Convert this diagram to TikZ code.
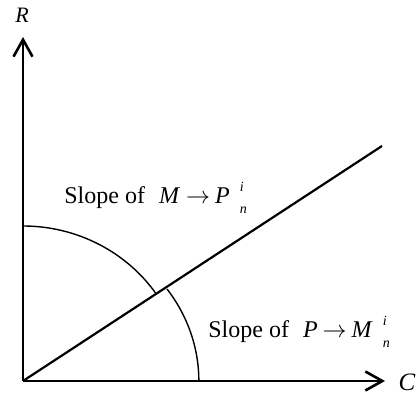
\documentclass[tikz,border=0pt]{standalone}
\usepackage{fontspec}
\setmainfont{Liberation Serif}
\usetikzlibrary{arrows.meta, positioning}

% superscript i over subscript n, set apart like an equation editor
\newcommand{\supsubin}{\hspace{5pt}\rlap{\raisebox{6pt}{\fontsize{7}{8}\selectfont\textit{i}}}\raisebox{-5pt}{\fontsize{7}{8}\selectfont\textit{n}}}

\begin{document}
\begin{tikzpicture}[
    x=0.5pt, y=0.5pt,
    axis/.style={line width=1.3pt, -{Straight Barb[length=8.5pt, width=9.5pt]}},
    ratio/.style={line width=1.1pt},
    sweep/.style={line width=0.7pt},
    slopelabel/.style={anchor=base west, inner sep=0pt, font=\fontsize{12}{14}\selectfont},
    axlabel/.style={inner sep=0pt, font=\itshape}
]
\useasboundingbox (0,0) rectangle (417,394);

\coordinate (O)    at (23,13);
\coordinate (Rtip) at (23,357);
\coordinate (Ctip) at (385,13);
\coordinate (Lend) at (382,248);

\node[axlabel, font=\fontsize{11}{13}\selectfont\itshape] (R) at (22,379) {R};
\node[axlabel, font=\fontsize{12.5}{14}\selectfont\itshape] (C) at (407,12) {C};

\draw[axis]  (O) -- (Rtip);
\draw[axis]  (O) -- (Ctip);
\draw[ratio] (O) -- (Lend);

% the two angle sweeps
\draw[sweep] (23,168) arc[start angle=90, end angle=34, x radius=161, y radius=155];
\draw[sweep] (167,105) arc[start angle=35, end angle=0, x radius=176, y radius=160];

\node[slopelabel] (mp) at (64,190)
  {Slope of\hspace{7pt}\textit{M}\hspace{3pt}$\rightarrow$\hspace{2.5pt}\textit{P}\supsubin};
\node[slopelabel] (pm) at (208,56)
  {Slope of\hspace{7pt}\textit{P}\hspace{2.5pt}$\rightarrow$\hspace{2.5pt}\textit{M}\supsubin};

\end{tikzpicture}
\end{document}
